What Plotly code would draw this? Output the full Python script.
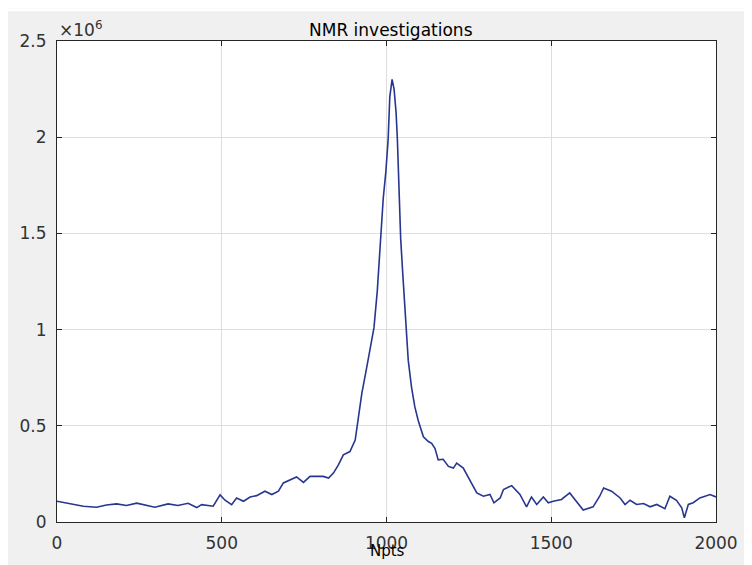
import plotly.graph_objects as go

# Data (x in points, y in units of 1e6)
npts = [0, 39, 80, 120, 150, 181, 211, 242, 272, 297, 337, 367, 398, 424, 439, 474,
        495, 510, 530, 545, 566, 586, 606, 631, 652, 672, 687, 707, 727, 748, 768,
        788, 808, 824, 839, 854, 869, 889, 905, 915, 925, 940, 952, 962, 972, 980,
        990, 998, 1005, 1010, 1017, 1023, 1029, 1033, 1037, 1043, 1049, 1055, 1059,
        1066, 1076, 1086, 1096, 1112, 1127, 1137, 1147, 1157, 1172, 1188, 1203, 1213,
        1233, 1253, 1264, 1274, 1294, 1314, 1326, 1345, 1355, 1380, 1405, 1425, 1440,
        1456, 1476, 1491, 1506, 1531, 1556, 1577, 1597, 1627, 1647, 1659, 1683, 1709,
        1724, 1739, 1759, 1780, 1800, 1820, 1845, 1860, 1880, 1896, 1904, 1916, 1931,
        1951, 1982, 2000]
signal_e6 = [0.108, 0.094, 0.082, 0.077, 0.088, 0.094, 0.086, 0.098, 0.086, 0.077,
             0.094, 0.086, 0.097, 0.075, 0.090, 0.082, 0.141, 0.113, 0.090, 0.125,
             0.108, 0.130, 0.137, 0.160, 0.143, 0.160, 0.203, 0.220, 0.234, 0.206,
             0.237, 0.237, 0.237, 0.228, 0.254, 0.297, 0.349, 0.366, 0.426, 0.546,
             0.667, 0.804, 0.924, 1.010, 1.200, 1.406, 1.680, 1.820, 1.990, 2.210,
             2.300, 2.250, 2.130, 1.990, 1.780, 1.474, 1.300, 1.120, 1.010, 0.840,
             0.700, 0.598, 0.529, 0.443, 0.418, 0.409, 0.383, 0.323, 0.326, 0.289,
             0.280, 0.306, 0.280, 0.220, 0.186, 0.151, 0.134, 0.143, 0.100, 0.125,
             0.169, 0.189, 0.143, 0.079, 0.130, 0.091, 0.130, 0.100, 0.108, 0.117,
             0.151, 0.108, 0.062, 0.079, 0.134, 0.177, 0.160, 0.125, 0.091, 0.113,
             0.091, 0.096, 0.079, 0.091, 0.069, 0.134, 0.113, 0.074, 0.022, 0.091,
             0.100, 0.125, 0.143, 0.130]

x_ticks = [0, 500, 1000, 1500, 2000]
y_ticks = [0, 0.5, 1, 1.5, 2, 2.5]
y_tick_labels = ["0", "0.5", "1", "1.5", "2", "2.5"]

# the page body adds an 8px margin, so the figure starts at (8, 8) in the window
W, H = 744, 557
L, R, T, B = 49, 36, 33, 39
pw, ph = W - L - R, H - T - B

fig = go.Figure()
fig.add_trace(go.Scatter(x=npts, y=signal_e6, mode="lines",
                         line=dict(color="#28368f", width=1.6),
                         showlegend=False, hoverinfo="skip"))

axis_common = dict(showline=True, linecolor="#262626", linewidth=1, mirror="ticks",
                   ticks="inside", ticklen=5, tickcolor="#262626",
                   showgrid=True, gridcolor="#dedede", gridwidth=1, zeroline=False,
                   tickfont=dict(family="DejaVu Sans", size=17, color="#333333"))

fig.update_xaxes(range=[0, 2000], tickvals=x_ticks, ticktext=[str(v) for v in x_ticks],
                 ticklabelstandoff=6, **axis_common)
fig.update_yaxes(range=[0, 2.5], tickvals=y_ticks, ticktext=y_tick_labels,
                 ticklabelstandoff=6, **axis_common)

# thin white strip along the top of the figure window
fig.add_shape(type="rect", xref="paper", yref="paper",
              x0=-L / pw, x1=(W - L) / pw, y0=(ph + T - 3) / ph, y1=(ph + T) / ph,
              fillcolor="white", line_width=0, layer="below")

fig.add_annotation(text="NMR investigations", xref="paper", yref="paper",
                   x=(383 - L) / pw, y=(ph + T - 22) / ph, xanchor="center", yanchor="middle",
                   showarrow=False, font=dict(family="DejaVu Sans", size=17, color="black"))
fig.add_annotation(text="×10<sup>6</sup>", xref="paper", yref="paper",
                   x=(49 - L) / pw, y=(ph + T - 21) / ph, xanchor="left", yanchor="middle",
                   showarrow=False, font=dict(family="DejaVu Sans", size=17, color="#333333"))
fig.add_annotation(text="Npts", xref="paper", yref="paper",
                   x=(379 - L) / pw, y=(ph + T - 547) / ph, xanchor="center", yanchor="middle",
                   showarrow=False, font=dict(family="DejaVu Sans", size=15, color="black"))

fig.update_layout(width=W, height=H, autosize=False,
                  margin=dict(l=L, r=R, t=T, b=B, pad=0),
                  paper_bgcolor="#f0f0f0", plot_bgcolor="white",
                  showlegend=False)

fig.write_html("out.html")
